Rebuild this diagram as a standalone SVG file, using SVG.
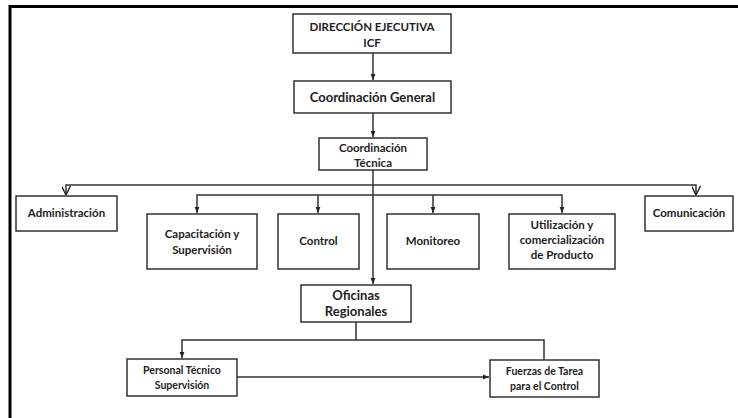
<svg xmlns="http://www.w3.org/2000/svg" width="738" height="418" viewBox="0 0 738 418">
<style>
.box{fill:#fff;stroke:#333;stroke-width:1.5}
.t{font-family:Lato,"Open Sans","Liberation Sans",sans-serif;font-weight:bold;font-size:11.5px;fill:#222;text-anchor:middle}
.ln{fill:none;stroke:#333;stroke-width:1.5}
</style>
<defs>
<marker id="fa" viewBox="0 0 10 10" refX="10" refY="5" markerWidth="6" markerHeight="6" orient="auto" markerUnits="userSpaceOnUse"><path d="M0,1 L10,5 L0,9 Z" fill="#222"/></marker>
<marker id="oa" viewBox="0 0 10 10" refX="10" refY="5" markerWidth="9" markerHeight="9" orient="auto" markerUnits="userSpaceOnUse"><path d="M0,0 L10,5 L0,10" fill="none" stroke="#222" stroke-width="1.6"/></marker>
</defs>
<rect width="738" height="418" fill="#fff"/>
<path d="M10,418 V6.5 H738" fill="none" stroke="#000" stroke-width="3"/>
<g id="connectors">
<path class="ln" d="M373,53 V80" marker-end="url(#fa)"/>
<path class="ln" d="M373,113 V137" marker-end="url(#fa)"/>
<path class="ln" d="M373,170 V284" marker-end="url(#fa)"/>
<path class="ln" d="M373,185 H66 V195" marker-end="url(#oa)"/>
<path class="ln" d="M373,185 H696 V195" marker-end="url(#oa)"/>
<path class="ln" d="M373,195 H197 V213" marker-end="url(#fa)"/>
<path class="ln" d="M373,195 H562 V213" marker-end="url(#fa)"/>
<path class="ln" d="M318,195 V213" marker-end="url(#fa)"/>
<path class="ln" d="M433,195 V213" marker-end="url(#fa)"/>
<path class="ln" d="M356,322 V340 H182 V358" marker-end="url(#fa)"/>
<path class="ln" d="M356,340 H544 V360"/>
<path class="ln" d="M237,377 H489" marker-end="url(#fa)"/>
</g>
<g id="direccion"><rect class="box" x="293" y="14" width="158" height="39"/><text class="t" x="372" y="31">DIRECCIÓN EJECUTIVA</text><text class="t" x="372" y="47">ICF</text></g>
<g id="coord-general"><rect class="box" x="294" y="81" width="157" height="32"/><text class="t" x="372.5" y="102" style="font-size:13px">Coordinación General</text></g>
<g id="coord-tecnica"><rect class="box" x="319" y="138" width="108" height="32"/><text class="t" x="373" y="152">Coordinación</text><text class="t" x="373" y="167">Técnica</text></g>
<g id="administracion"><rect class="box" x="16" y="196" width="101" height="35"/><text class="t" x="66.5" y="217">Administración</text></g>
<g id="capacitacion"><rect class="box" x="147" y="214" width="110" height="55"/><text class="t" x="202" y="238">Capacitación y</text><text class="t" x="202" y="254">Supervisión</text></g>
<g id="control"><rect class="box" x="278" y="214" width="81" height="55"/><text class="t" x="318.5" y="245">Control</text></g>
<g id="monitoreo"><rect class="box" x="387" y="214" width="92" height="55"/><text class="t" x="433" y="245">Monitoreo</text></g>
<g id="utilizacion"><rect class="box" x="509" y="214" width="106" height="55"/><text class="t" x="562" y="229">Utilización y</text><text class="t" x="562" y="244">comercialización</text><text class="t" x="562" y="259">de Producto</text></g>
<g id="comunicacion"><rect class="box" x="645" y="196" width="88" height="35"/><text class="t" x="689" y="217">Comunicación</text></g>
<g id="oficinas"><rect class="box" x="301" y="285" width="110" height="37"/><text class="t" x="356" y="300" style="font-size:13px">Oficinas</text><text class="t" x="356" y="316" style="font-size:13px">Regionales</text></g>
<g id="personal"><rect class="box" x="127" y="359" width="110" height="37"/><text class="t" x="182" y="374" style="font-size:10.5px">Personal Técnico</text><text class="t" x="182" y="389" style="font-size:10.5px">Supervisión</text></g>
<g id="fuerzas"><rect class="box" x="490" y="360" width="109" height="37"/><text class="t" x="544.5" y="375" style="font-size:10.5px">Fuerzas de Tarea</text><text class="t" x="544.5" y="390" style="font-size:10.5px">para el Control</text></g>
</svg>
